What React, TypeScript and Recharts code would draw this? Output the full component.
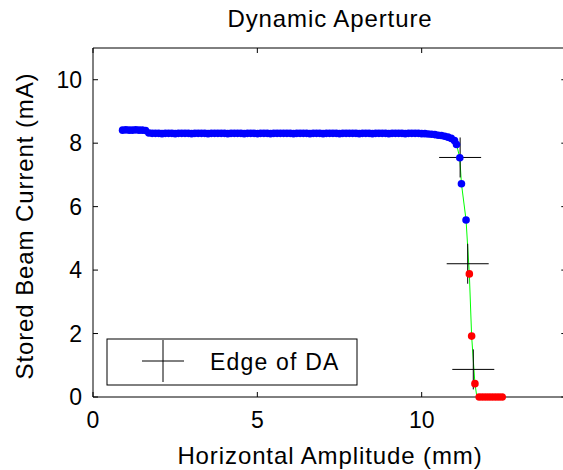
import { ComposedChart, XAxis, YAxis, Line, Scatter, ReferenceArea, ReferenceLine } from 'recharts';

// horizontal amplitude (mm) / stored current (mA)
const blueAmp = [
  0.9, 1.0, 1.1, 1.2, 1.3, 1.4, 1.5, 1.6, 1.7, 1.8,
  1.9, 2.0, 2.1, 2.2, 2.3, 2.4, 2.5, 2.6, 2.7, 2.8,
  2.9, 3.0, 3.1, 3.2, 3.3, 3.4, 3.5, 3.6, 3.7, 3.8,
  3.9, 4.0, 4.1, 4.2, 4.3, 4.4, 4.5, 4.6, 4.7, 4.8,
  4.9, 5.0, 5.1, 5.2, 5.3, 5.4, 5.5, 5.6, 5.7, 5.8,
  5.9, 6.0, 6.1, 6.2, 6.3, 6.4, 6.5, 6.6, 6.7, 6.8,
  6.9, 7.0, 7.1, 7.2, 7.3, 7.4, 7.5, 7.6, 7.7, 7.8,
  7.9, 8.0, 8.1, 8.2, 8.3, 8.4, 8.5, 8.6, 8.7, 8.8,
  8.9, 9.0, 9.1, 9.2, 9.3, 9.4, 9.5, 9.6, 9.7, 9.8,
  9.9, 10.0, 10.1, 10.2, 10.3, 10.4, 10.5, 10.6, 10.7, 10.8,
  10.9, 11.0, 11.06, 11.16, 11.21, 11.35,
];
const blueCurrent = [
  8.41, 8.42, 8.41, 8.41, 8.42, 8.41, 8.41, 8.40, 8.32, 8.31,
  8.31, 8.31, 8.30, 8.31, 8.31, 8.31, 8.30, 8.31, 8.31, 8.31,
  8.31, 8.30, 8.31, 8.31, 8.31, 8.31, 8.30, 8.31, 8.31, 8.31,
  8.31, 8.31, 8.30, 8.31, 8.31, 8.31, 8.31, 8.30, 8.31, 8.31,
  8.31, 8.30, 8.31, 8.31, 8.31, 8.30, 8.31, 8.31, 8.31, 8.31,
  8.31, 8.31, 8.30, 8.31, 8.31, 8.31, 8.31, 8.30, 8.31, 8.31,
  8.31, 8.30, 8.31, 8.31, 8.31, 8.31, 8.30, 8.31, 8.31, 8.31,
  8.31, 8.31, 8.30, 8.31, 8.31, 8.31, 8.30, 8.31, 8.31, 8.31,
  8.31, 8.30, 8.31, 8.31, 8.31, 8.31, 8.30, 8.31, 8.31, 8.31,
  8.31, 8.30, 8.30, 8.29, 8.28, 8.27, 8.25, 8.24, 8.22, 8.19,
  8.15, 8.08, 7.96, 7.54, 6.72, 5.58,
];
const redAmp = [11.45, 11.52, 11.62, 11.75, 11.85, 11.95, 12.05, 12.15, 12.25, 12.35, 12.45];
const redCurrent = [3.88, 1.92, 0.42, 0, 0, 0, 0, 0, 0, 0, 0];
const fitAmp = [11.06, 11.16, 11.21, 11.35, 11.45, 11.52, 11.62, 11.68];
const fitCurrent = [7.96, 7.54, 6.72, 5.58, 3.88, 1.92, 0.42, 0];
const edgeAmp = [11.17, 11.4, 11.57];
const edgeCurrent = [7.55, 4.2, 0.87];
const xTicks = [0, 5, 10];
const yTicks = [0, 2, 4, 6, 8, 10];
const xDomain = [0, 14.4];
const yDomain = [0, 11];

const zip = (a: number[], c: number[]) => a.map((amp, i) => ({ amp, current: c[i] }));
const blueData = zip(blueAmp, blueCurrent);
const redData = zip(redAmp, redCurrent);
const fitData = zip(fitAmp, fitCurrent);
const edgeData = zip(edgeAmp, edgeCurrent);

const font = '"Liberation Sans", Arial, sans-serif';
const tickStyle = { fill: '#000', fontSize: 23, fontFamily: font };
const TICK = 5;

const dot = (color: string) => (p: any) => <circle cx={p.cx} cy={p.cy} r={3.8} fill={color} />;
const plus = (p: any) => (
  <g stroke="#000" strokeWidth={1}>
    <line x1={p.cx - 21} y1={p.cy} x2={p.cx + 21} y2={p.cy} />
    <line x1={p.cx} y1={p.cy - 20} x2={p.cx} y2={p.cy + 20} />
  </g>
);

// inward ticks at both ends of a reference line (matlab box style)
const tickPair = (p: any) => {
  const { x1, y1, x2, y2 } = p;
  const vertical = Math.abs(x1 - x2) < 0.5;
  const a = Math.min(vertical ? y1 : x1, vertical ? y2 : x2);
  const b = Math.max(vertical ? y1 : x1, vertical ? y2 : x2);
  return vertical ? (
    <g stroke="#000">
      <line x1={x1} y1={a} x2={x1} y2={a + TICK} />
      <line x1={x1} y1={b} x2={x1} y2={b - TICK} />
    </g>
  ) : (
    <g stroke="#000">
      <line x1={a} y1={y1} x2={a + TICK} y2={y1} />
      <line x1={b} y1={y1} x2={b - TICK} y2={y1} />
    </g>
  );
};

export default function App() {
  return (
    <div style={{ position: 'absolute', left: 0, top: 0, width: 563, height: 470, overflow: 'hidden', background: '#fff' }}>
      <ComposedChart width={600} height={470} margin={{ top: 48, right: 33.7, bottom: 0, left: 0 }}>
        <XAxis dataKey="amp" type="number" domain={xDomain} ticks={xTicks} height={73}
          tickSize={0} tickMargin={15} tick={tickStyle} axisLine={false} tickLine={false} />
        <YAxis type="number" domain={yDomain} ticks={yTicks} width={93}
          tickSize={0} tickMargin={11} tick={tickStyle} axisLine={false} tickLine={false} />
        <ReferenceArea x1={xDomain[0]} x2={xDomain[1]} y1={yDomain[0]} y2={yDomain[1]}
          fill="none" fillOpacity={0} stroke="#000" strokeOpacity={1} />
        {xTicks.map((t) => <ReferenceLine key={`x${t}`} x={t} shape={tickPair} />)}
        {yTicks.map((t) => <ReferenceLine key={`y${t}`} y={t} shape={tickPair} />)}
        <Line data={fitData} dataKey="current" stroke="#00ff00" strokeWidth={1}
          dot={false} isAnimationActive={false} />
        <Scatter data={edgeData} dataKey="current" shape={plus} isAnimationActive={false} />
        <Scatter data={blueData} dataKey="current" shape={dot('#0000ff')} isAnimationActive={false} />
        <Scatter data={redData} dataKey="current" shape={dot('#ff0000')} isAnimationActive={false} />

        <text x={330} y={27} textAnchor="middle" fontSize={24} fontFamily={font} letterSpacing={0.9} fill="#000">
          Dynamic Aperture
        </text>
        <text x={330} y={464} textAnchor="middle" fontSize={24} fontFamily={font} letterSpacing={0.9} fill="#000">
          Horizontal Amplitude (mm)
        </text>
        <text x={33} y={226} transform="rotate(-90 33 226)" textAnchor="middle" fontSize={24} fontFamily={font}
          letterSpacing={0.9} fill="#000">
          Stored Beam Current (mA)
        </text>

        <g>
          <rect x={107} y={339} width={250} height={46} fill="#fff" stroke="#000" />
          <line x1={142} y1={361} x2={184} y2={361} stroke="#000" />
          <line x1={163} y1={340} x2={163} y2={382} stroke="#000" />
          <text x={210} y={370} fontSize={23} fontFamily={font} letterSpacing={1.2} fill="#000">Edge of DA</text>
        </g>
      </ComposedChart>
    </div>
  );
}
